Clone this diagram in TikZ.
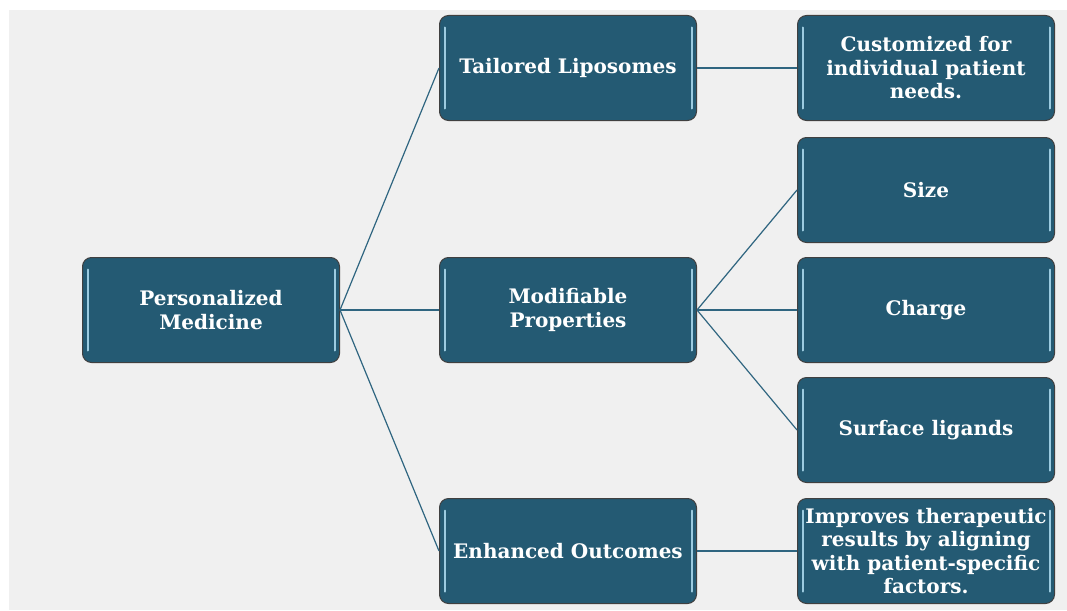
\documentclass[tikz,border=0pt]{standalone}
\usepackage{fontspec}
\setmainfont{DejaVu Serif}
\definecolor{boxblue}{HTML}{245A73}
\definecolor{edgeblue}{HTML}{2F6580}
\definecolor{glint}{HTML}{9CCBE0}
\definecolor{bggray}{HTML}{F0F0F0}
\tikzset{
  topic/.style={rectangle, rounded corners=9pt, fill=boxblue, draw=black!75,
    line width=1pt, minimum width=257pt, minimum height=105pt, text=white,
    font=\fontsize{20}{23.5}\selectfont\bfseries, align=center, inner sep=2pt,
    path picture={
      \draw[glint, line width=2pt, line cap=round]
        ([xshift=5pt,yshift=-12pt]path picture bounding box.north west) --
        ([xshift=5pt,yshift=12pt]path picture bounding box.south west);
      \draw[glint, line width=2pt, line cap=round]
        ([xshift=-5pt,yshift=-12pt]path picture bounding box.north east) --
        ([xshift=-5pt,yshift=12pt]path picture bounding box.south east);
    }},
  link/.style={draw=edgeblue, line width=1.2pt}
}
\begin{document}
\begin{tikzpicture}[x=1pt,y=-1pt]
  \useasboundingbox (0,0) rectangle (1067,610);
  \fill[bggray] (9,10) rectangle (1067,610);
  % root
  \node[topic] (pm) at (211,310) {Personalized\\Medicine};
  % middle column
  \node[topic] (tl) at (568,68) {Tailored Liposomes};
  \node[topic] (mp) at (568,310) {Modifiable\\Properties};
  \node[topic] (eo) at (568,551) {Enhanced Outcomes};
  % right column
  \node[topic] (cust) at (926,68) {Customized for\\individual patient\\needs.};
  \node[topic] (size) at (926,190) {Size};
  \node[topic] (charge) at (926,310) {Charge};
  \node[topic] (surf) at (926,430) {Surface ligands};
  \node[topic] (impr) at (926,551) {Improves therapeutic\\results by aligning\\with patient-specific\\factors.};
  % links
  \draw[link] (pm.east) -- (tl.west);
  \draw[link] (pm.east) -- (mp.west);
  \draw[link] (pm.east) -- (eo.west);
  \draw[link] (tl.east) -- (cust.west);
  \draw[link] (mp.east) -- (size.west);
  \draw[link] (mp.east) -- (charge.west);
  \draw[link] (mp.east) -- (surf.west);
  \draw[link] (eo.east) -- (impr.west);
\end{tikzpicture}
\end{document}
